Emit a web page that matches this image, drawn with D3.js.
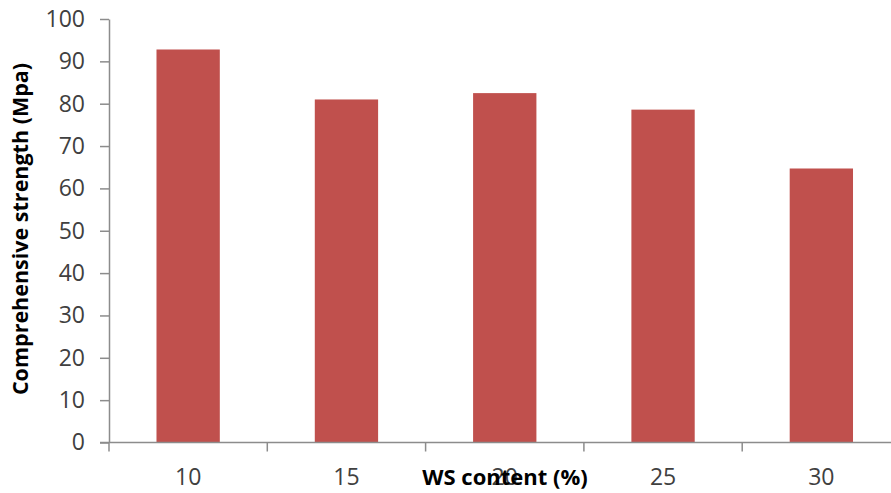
<!DOCTYPE html>
<html><head><meta charset="utf-8">
<script src="https://cdn.jsdelivr.net/npm/d3@7"></script>
<style>body{margin:0;background:#fff;} svg{display:block;}</style>
</head><body>
<script>
const categories = ["10","15","20","25","30"];
const values = [92.8, 81.0, 82.5, 78.6, 64.7];
const yTicks = [0,10,20,30,40,50,60,70,80,90,100];
const xTitle = "WS content (%)";
const yTitle = "Comprehensive strength (Mpa)";

const W = 891, H = 493;
const x0 = 109, y0 = 442.5, yTop = 19;
const svg = d3.select("body").append("svg").attr("width", W).attr("height", H);
const font = "'Open Sans', sans-serif";
const axisColor = "#8c8c8c", textColor = "#404040";

const x = d3.scaleBand().domain(categories).range([x0, x0 + 5*158.3]).paddingInner(0.6).paddingOuter(0.3);
const y = d3.scaleLinear().domain([0,100]).range([y0, yTop]);

svg.selectAll("rect.bar").data(values).enter().append("rect")
  .attr("class","bar")
  .attr("x",(d,i)=>x(categories[i]))
  .attr("width",x.bandwidth())
  .attr("y",d=>y(d))
  .attr("height",d=>y0-y(d))
  .attr("fill","#C0504D");

// y axis
const yAxis = d3.axisLeft(y).tickValues(yTicks).tickSize(9).tickSizeOuter(0).tickPadding(15);
const gy = svg.append("g").attr("transform",`translate(${x0},0)`).call(yAxis);
gy.select(".domain").attr("stroke",axisColor).attr("stroke-width",1.5);
gy.selectAll(".tick line").attr("stroke",axisColor).attr("stroke-width",1.5);
gy.selectAll(".tick text").attr("font-family",font).attr("font-size",23).attr("fill",textColor);

// x axis line
svg.append("line").attr("x1",x0-9).attr("x2",W).attr("y1",y0).attr("y2",y0)
  .attr("stroke",axisColor).attr("stroke-width",1.5);
const bounds = d3.range(categories.length).map(i => x0 + i*158.3);
svg.selectAll("line.ct").data(bounds).enter().append("line")
  .attr("x1",d=>d).attr("x2",d=>d).attr("y1",y0).attr("y2",y0+9)
  .attr("stroke",axisColor).attr("stroke-width",1.5);

svg.selectAll("text.cat").data(categories).enter().append("text")
  .attr("x",d=>x(d)+x.bandwidth()/2).attr("y",485)
  .attr("text-anchor","middle").attr("font-family",font).attr("font-size",23)
  .attr("fill",textColor).text(d=>d);

svg.append("text").attr("x",505).attr("y",485).attr("text-anchor","middle")
  .attr("font-family",font).attr("font-size",22).attr("font-weight","bold")
  .attr("fill","#000").text(xTitle);

svg.append("text").attr("transform","translate(28,229) rotate(-90)")
  .attr("text-anchor","middle").attr("font-family",font).attr("font-size",21.5)
  .attr("font-weight","bold").attr("fill","#000").text(yTitle);
</script>
</body></html>
